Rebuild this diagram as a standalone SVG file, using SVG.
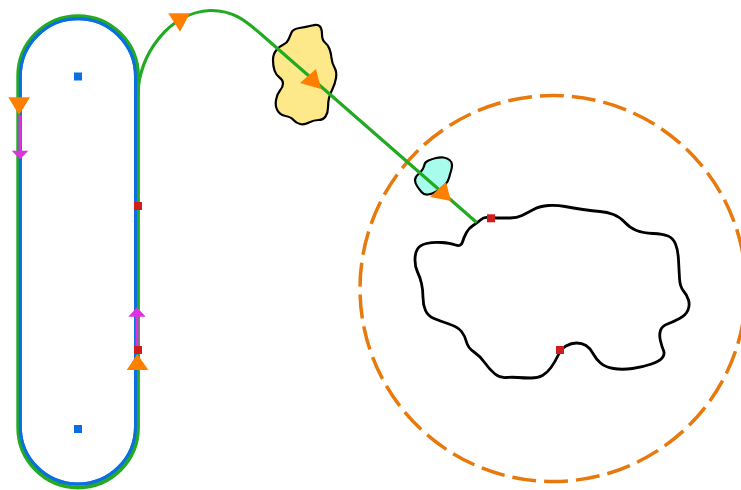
<svg xmlns="http://www.w3.org/2000/svg" width="741" height="490" viewBox="0 0 741 490">
<defs>
<style>
.conn{fill:none;stroke:#22aa22;stroke-width:3.2;stroke-linejoin:round}
.loop{fill:none;stroke:#22aa22;stroke-width:4}
.stad{fill:none;stroke:#0b6fe0;stroke-width:3}
.blob{stroke:#000;stroke-width:2.2;stroke-linejoin:round}
.bigblob{stroke:#000;stroke-width:2.8;stroke-linejoin:round}
.ring{fill:none;stroke:#e8790d;stroke-width:3.5;stroke-dasharray:24 8}
.tri{fill:#ff7f00}
.mag{stroke:#dd33dd;stroke-width:3;fill:none}
.magh{fill:#dd33dd}
.red{fill:#d01c1c}
.bsq{fill:#0b6fe0}
.osq{fill:#e8790d}
</style>
</defs>
<rect width="741" height="490" fill="#fff"/>
<g id="circle-node">
<circle class="ring" cx="553" cy="288.5" r="193"/>
<rect class="osq" x="549" y="284.3" width="8" height="8"/>
</g>
<g id="stadium-node">
<rect class="stad" x="20.3" y="18.7" width="115.2" height="465.3" rx="57.6" ry="57.6"/>
<rect class="bsq" x="74" y="72.5" width="8" height="8"/>
<rect class="bsq" x="74" y="425" width="8" height="8"/>
</g>
<g id="yellow-blob">
<path class="blob" fill="#fde88a" d="M291.5,32.5 Q293,29 299.5,28 Q306,27 312,25.5 Q318,24 320,26.5 Q322,29 322,34.5 Q322,40 325,42.5 Q328,45 329.5,49 Q331,53 331.5,58 Q332,63 334.5,67.5 Q337,72 336,78 Q335,84 332.5,89 Q330,94 329,98 Q328,102 328,107.5 Q328,113 325.5,116.5 Q323,120 318.5,120 Q314,120 309,122.5 Q304,125 300,124 Q296,123 293.5,120 Q291,117 285.5,116 Q280,115 277.5,110.5 Q275,106 276,100 Q277,94 280,90.5 Q283,87 283,83.5 Q283,80 279.5,77.5 Q276,75 274.5,70.5 Q273,66 273,60 Q273,54 276.5,50 Q280,46 283.5,44.5 Q287,43 288.5,39.5 Q290,36 291.5,32.5 Z"/>
</g>
<g id="cyan-blob">
<path class="blob" fill="#a8fcec" d="M424.5,164.5 Q425,162 428.5,160.5 Q432,159 436,158 Q440,157 443.5,157.5 Q447,158 449.5,160 Q452,162 452,165 Q452,168 451,171 Q450,174 449,178 Q448,182 444.5,185.5 Q441,189 436.5,191.5 Q432,194 428,194.5 Q424,195 421.5,192 Q419,189 417,186 Q415,183 415,180 Q415,177 418,174.5 Q421,172 422.5,169.5 Q424,167 424.5,164.5 Z"/>
</g>
<g id="big-blob">
<path class="bigblob" fill="#fff" d="M473,225.5 Q477,223 480.5,220 Q484,217 487.5,217.5 Q491,218 497,218 Q503,218 510,218 Q517,218 522,215.5 Q527,213 533.5,209.5 Q540,206 548.5,205.5 Q557,205 565,206.5 Q573,208 583,209.5 Q593,211 600,211.5 Q607,212 613.5,214.5 Q620,217 625,222.5 Q630,228 636.5,230.5 Q643,233 653,233.5 Q663,234 668,236 Q673,238 675.5,244 Q678,250 678.5,260 Q679,270 679.5,278.5 Q680,287 683.5,291 Q687,295 688.5,300 Q690,305 688,310 Q686,315 679.5,318.5 Q673,322 667.5,324 Q662,326 660.5,330.5 Q659,335 660.5,341 Q662,347 663.5,350.5 Q665,354 662.5,357.5 Q660,361 651.5,364 Q643,367 632.5,368.5 Q622,370 613.5,368.5 Q605,367 600.5,363 Q596,359 593,353.5 Q590,348 586,345.5 Q582,343 576.5,343 Q571,343 566,346 Q561,349 558,355.5 Q555,362 551,367.5 Q547,373 542.5,375.5 Q538,378 531,378 Q524,378 518,377.5 Q512,377 506,377.5 Q500,378 495,374 Q490,370 485,363 Q480,356 474,352 Q468,348 466.5,342 Q465,336 461.5,331.5 Q458,327 449,324 Q440,321 434,318.5 Q428,316 425.5,310.5 Q423,305 423,297.5 Q423,290 421.5,283.5 Q420,277 417.5,272 Q415,267 415,260 Q415,253 417.5,249 Q420,245 426.5,243.5 Q433,242 441.5,242.5 Q450,243 455.5,245 Q461,247 462.5,242 Q464,237 466.5,232.5 Q469,228 473,225.5 Z"/>
</g>
<g id="connectors">
<path class="loop" d="M137.9,427.6 L137.9,76 A59.8,59.8 0 0 0 18.3,76 L18.3,427.6 A59.8,59.8 0 0 0 137.9,427.6 Z"/>
<path class="conn" d="M137.9,95 C137.9,55 170,12 210,10.5 C232,10 245,20 262,35 L476.7,222.5"/>
<rect class="stad" x="20.3" y="18.7" width="115.2" height="465.3" rx="57.6" ry="57.6"/>
<path class="mag" d="M20,115 L20,152"/>
<polygon class="magh" points="11.7,150.7 28.3,150.7 20,159.3"/>
<path class="mag" d="M137,346 L137,316"/>
<polygon class="magh" points="128.3,316.7 145.7,316.7 137,307.3"/>
<polygon class="tri" points="8.3,97.3 30,97.3 19,115"/>
<polygon class="tri" points="126.7,370 148.3,370 137.3,354"/>
<polygon class="tri" points="168.3,13.3 190,13.3 180,31.7"/>
<polygon class="tri" points="300,83 316,69 321,89"/>
<polygon class="tri" points="430,197 446,182 451,201"/>
</g>
<g id="markers">
<rect class="red" x="134" y="202" width="8" height="8"/>
<rect class="red" x="134" y="346" width="8" height="8"/>
<rect class="red" x="487" y="214.3" width="8" height="8"/>
<rect class="red" x="556" y="346" width="8" height="8"/>
</g>
</svg>
